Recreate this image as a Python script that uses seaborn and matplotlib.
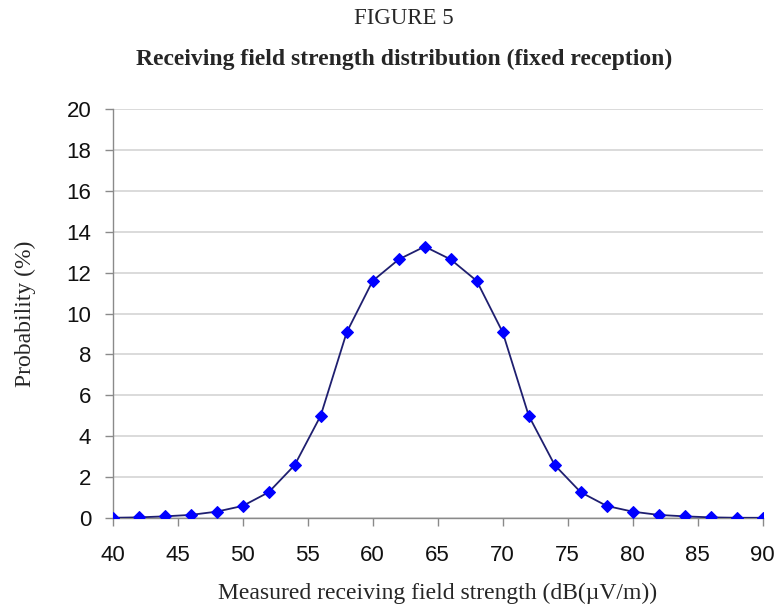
import matplotlib
matplotlib.use("Agg")
import matplotlib.pyplot as plt
import seaborn as sns
import pandas as pd

# field strength (dB(uV/m)) and probability (%)
field_strength = [40, 42, 44, 46, 48, 50, 52, 54, 56, 58, 60, 62, 64,
                  66, 68, 70, 72, 74, 76, 78, 80, 82, 84, 86, 88, 90]
probability = [0.0, 0.02, 0.07, 0.14, 0.3, 0.58, 1.25, 2.58, 5.0, 9.08, 11.6, 12.65, 13.28,
               12.65, 11.6, 9.08, 5.0, 2.58, 1.25, 0.58, 0.3, 0.14, 0.07, 0.02, 0.0, 0.0]
x_ticks = [40, 45, 50, 55, 60, 65, 70, 75, 80, 85, 90]
y_ticks = [0, 2, 4, 6, 8, 10, 12, 14, 16, 18, 20]

df = pd.DataFrame({"field": field_strength, "prob": probability})

sns.set_style("white")
plt.rcParams["font.family"] = ["Liberation Sans", "DejaVu Sans"]
serif = ["Liberation Serif", "DejaVu Serif"]

fig = plt.figure(figsize=(7.76, 6.08), dpi=100)
ax = fig.add_axes([0.1452, 0.1484, 0.8377, 0.6718])

sns.lineplot(data=df, x="field", y="prob", ax=ax, color="#1f1f70", linewidth=1.3,
             marker="D", markersize=6.5, markerfacecolor="#0000ff",
             markeredgecolor="#0000ff", zorder=3)

ax.set_xlim(40, 90)
ax.set_ylim(0, 20)
ax.set_xticks(x_ticks)
ax.set_yticks(y_ticks)
ax.tick_params(axis="both", labelsize=16, colors="#8a8a8a", labelcolor="#111111",
               direction="out", length=5.5, width=1, left=True, bottom=True)
ax.tick_params(axis="x", pad=14)
ax.tick_params(axis="y", pad=10)
ax.yaxis.grid(True, color="#d4d4d4", linewidth=1.2)
ax.set_axisbelow(True)
for side in ["top", "right"]:
    ax.spines[side].set_visible(False)
for side in ["left", "bottom"]:
    ax.spines[side].set_color("#8a8a8a")
    ax.spines[side].set_linewidth(1)

ax.set_xlabel("Measured receiving field strength (dB(\u00b5V/m))",
              family=serif, fontsize=17, labelpad=12)
ax.set_ylabel("Probability (%)", family=serif, fontsize=17, labelpad=22)

fig.text(0.521, 0.969, "FIGURE 5", ha="center", va="center",
         family=serif, fontsize=16.5)
fig.text(0.521, 0.902, "Receiving field strength distribution (fixed reception)",
         ha="center", va="center", family=serif, fontsize=17, fontweight="bold")

fig.savefig("out.png", dpi=100, facecolor="white")
